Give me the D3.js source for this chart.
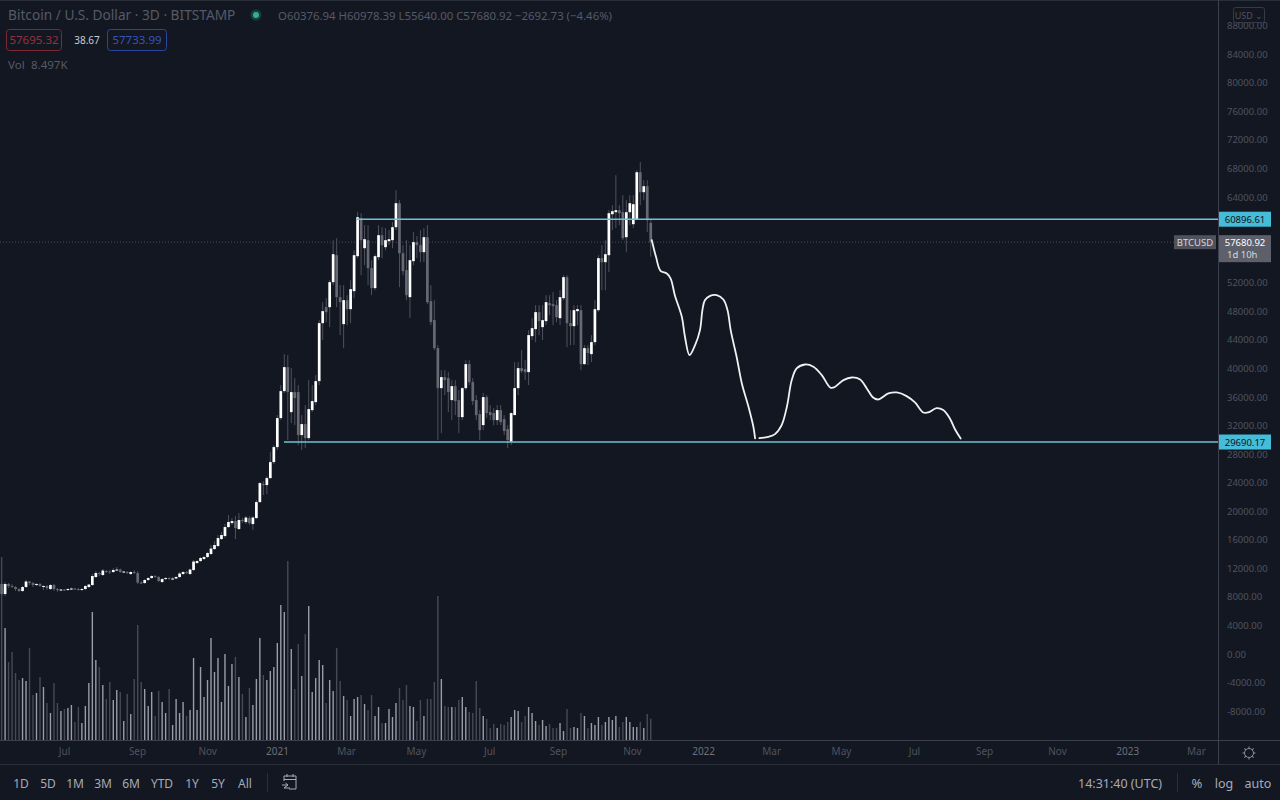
<!DOCTYPE html>
<html>
<head>
  <meta charset="utf-8">
  <title>Bitcoin / U.S. Dollar</title>
  <script src="https://d3js.org/d3.v7.min.js"></script>
  <style>
    html, body { margin: 0; padding: 0; background: #131722; overflow: hidden; }
    text { font-family: "Noto Sans", sans-serif; }
  </style>
</head>
<body>
  <div id="canvas"></div>

  <script>
    // 3D candles
    var opens = [9800,8400,9800,9520,9380,9100,8820,9380,10150,9940,9660,9800,9380,9520,9100,9660,9100,8960,9030,8960,
      9100,9170,9100,9030,9100,9380,9660,10780,11340,11060,11620,11550,11480,11760,11830,11480,11480,11200,11480,11340,
      10010,9940,10360,10640,10920,10780,10080,10500,10640,10500,10570,10780,11200,11480,11200,11760,12740,13020,13300,13580,
      14000,14700,15120,16100,16520,17780,18340,18620,17500,18760,18480,19040,18200,19040,21280,23800,23660,24640,26880,28980,
      33040,36820,40180,33880,36680,36680,30660,32200,30240,34160,35280,38220,46340,48580,48580,52080,55860,49980,46200,49560,
      48300,50820,55720,61040,56840,57960,54040,51240,55580,58660,56980,57820,57960,59780,63140,56140,53760,49980,55020,57680,
      57260,56280,58380,49420,46760,42840,37240,38780,38640,35560,37520,35560,33180,37240,40600,38080,35560,33600,32060,35980,
      33880,33740,32760,34160,32900,31500,29750,33460,37240,40040,39900,39480,44520,45500,47880,45780,46620,49140,49000,48860,
      47040,49840,52780,46340,45920,48020,48160,40600,42840,42000,43680,48160,55440,54880,55860,61600,61880,62160,61880,58380,
      61880,60200,60900,67480,64680,65520,60376.94];
    var highs = [10080,10080,9940,9800,9520,9240,9520,10360,10220,10080,9940,9940,9660,9660,9800,9800,9240,9100,9100,9240,
      9310,9240,9240,9240,9660,9800,11200,11620,11480,11900,11760,11760,12040,12180,11970,11620,11620,11620,11760,11620,
      10220,10500,10780,11060,11060,10920,10640,10780,10780,10780,10920,11480,11620,11620,11970,13160,13160,13580,13720,14280,
      15260,15820,16660,17080,18200,19460,19040,19320,19740,19040,19320,19320,19320,21560,24080,24220,24920,28280,29260,33460,
      37660,42000,41860,40040,38640,37660,33460,34860,38360,37660,39060,46760,49280,49840,52360,57960,58240,51660,51660,50260,
      52360,56560,61880,61740,60060,60060,55160,56000,60060,59780,59640,59360,60480,64960,63560,57260,57960,57260,59080,58520,
      59360,59640,60060,51660,49560,43260,39760,39760,39480,38360,38360,36960,37380,41160,41160,38640,36260,34160,36540,36260,
      34860,34440,34860,34860,33460,32060,33880,40880,40880,42560,41160,45360,47040,48860,48860,48860,50260,50260,50680,49560,
      50960,53060,53060,48160,48860,48860,48860,43260,43260,44660,49560,55860,57260,57960,62160,62860,67060,62860,64260,63560,
      64260,64260,67760,68880,66360,66360,60978.39];
    var lows = [8120,8120,9240,9240,8820,8680,8680,9240,9660,9380,9520,9380,8960,8960,8960,8820,8680,8820,8820,8820,
      8960,8960,8890,8820,8960,9240,9520,10640,10920,10920,11340,11200,11340,11620,11340,11340,11200,11060,11200,9800,
      9800,9800,10220,10500,10640,10080,9940,10360,10360,10360,10500,10640,11060,11200,11060,11620,12600,12880,13160,13440,
      13860,14560,14980,15960,16240,17640,18060,16100,17360,18340,18200,18060,17360,18900,21140,22260,22400,24500,26600,28560,
      32760,36540,29960,32340,32060,29260,28560,28840,29960,33880,34860,37660,43960,46480,45780,51660,48580,44660,42840,46060,
      46340,49840,55440,53060,54460,51660,50260,50960,55160,55440,56560,57260,56840,59360,51380,53060,49560,47040,54460,55440,
      54880,54880,49000,46060,42560,29960,30940,36260,33880,32760,33460,30940,32760,36960,37660,34860,32760,29960,31360,33040,
      32760,32060,32060,32060,30660,28840,29260,36260,36260,39340,38360,37660,43960,43680,44660,43960,46060,47460,46060,46480,
      46060,49560,42980,43260,43260,46060,39760,40460,40460,40880,43260,47880,50960,50960,53480,59360,59640,60060,57960,56280,
      60060,59640,60760,62860,63560,59080,55640];
    var closes = [8400,9800,9520,9380,9100,8820,9380,10150,9940,9660,9800,9520,9520,9240,9660,9100,8960,9030,8960,9100,
      9170,9100,9030,9100,9520,9730,10920,11340,11200,11690,11550,11480,11760,11830,11480,11550,11340,11480,11340,10010,
      9940,10360,10640,10920,10780,10220,10500,10640,10500,10570,10780,11270,11480,11340,11830,12950,13020,13440,13580,14140,
      14770,15260,16240,16660,17780,18480,18620,17640,18760,18620,19110,18340,19110,21280,23940,23660,24640,26880,28980,33040,
      36820,40180,36680,36680,35840,30660,32200,30240,34300,35420,38220,46340,48020,47880,52080,56000,49980,49280,49560,48300,
      51100,55860,61180,57960,58100,54040,51240,55720,58660,57260,57960,58100,59780,63140,56140,53620,50260,55160,57680,57260,
      56280,58380,49280,46480,42840,37240,38780,38360,36680,37520,35420,33180,37240,40600,38080,35420,33460,31360,35980,33740,
      33460,32760,34160,32480,31220,29960,33740,37240,40040,39620,39480,44660,45640,47880,46620,46760,49280,48860,48720,47180,
      49980,52780,46340,45920,48160,48300,40600,42840,42140,43680,48300,55440,54880,56000,61740,62020,62160,61740,58240,61880,
      63140,63000,67480,64680,65520,60760,57680.92];
    // volume in thousands, last bar from the legend
    var volumes = [73.2,44.8,31.2,35.2,26.8,24,24.8,23.6,36.8,18,
      18.8,25.2,21.2,14.8,10.8,22.8,14.8,11.6,12.4,12.8,
      14,7.2,13.2,6.8,13.6,22.8,51.2,32,29.2,22,
      16.4,23.2,16,20,19.2,7.6,18.4,10.4,24.4,46,
      23.2,20.4,13.6,19.2,9.6,19.6,15.2,10.8,20.4,6,
      16.4,10.8,15.2,9.6,12,32.8,12,29.2,17.2,24,
      40.8,27.2,32.8,15.2,34.4,21.6,30.4,33.2,25.2,18.4,
      9.2,20.8,14,24.4,40.8,26,24,27.6,29.2,38.8,
      54,51.2,71.6,36.4,20.4,38.4,25.6,42.4,53.6,19.2,
      24.8,32,30,14.8,24,19.6,36.8,
      23.6,17.6,16,9.6,16.4,17.2,18,14.4,12,18,
      9.6,13.2,6.8,6.8,12.4,9.2,14.8,20.8,16,22,
      13.6,13.2,7.6,16,9.6,16.4,16.4,23.2,57.6,24.4,
      13.6,13.2,13.2,13.2,16,17.2,13.2,11.2,10.8,23.6,
      12.8,9.6,8.4,4.8,6.4,4.8,6.4,6,7.2,9.2,
      12,11.6,7.2,9.6,13.2,10.8,7.6,6,8,5.6,
      6.4,4.8,4.8,6.8,3.6,12.4,4.8,5.2,4.8,10.8,
      9.6,4.8,6.8,6,9.2,6,7.2,9.2,8,9.6,
      5.2,7.2,9.2,7.2,5.2,5.2,7.2,4.8,10.4,8.497];

    // hand drawn projection, two strokes (bar number, price)
    var sketchBarsA = [186.3,187.5,188.8,190.6,191.7,192.9,194.9,195.8,197.1,198.7,200.1,200.8,201.5,203,204.9,206.8,208,208.9,210.6,212.1,214,215.4,215.9];
    var sketchPricesA = [57960,55630,53670,53290,52590,50260,47230,44430,41860,43260,45360,48160,49560,50170,50260,49650,48160,45360,41630,37890,34630,31830,30190];
    var sketchBarsB = [217.1,219.7,221.6,223.5,225,226.4,227.8,230.2,232.6,235,237.4,238.5,241.2,243.6,246,247.9,249.8,251.2,254.1,256.5,259.3,261.7,264.1,265.5,267.9,269.8,271.7,273.2,274.8];
    var sketchPricesB = [30240,30420,30800,32060,34630,38360,39990,40550,40230,39060,37330,37330,38360,38730,38450,37190,35880,35650,36490,36630,36120,35230,33830,33830,34440,34160,32990,31450,30190];

    // horizontal levels and where they begin
    var levels = [60896.61, 29690.17];
    var levelStartBars = [101.6, 80.9];
    var lastPrice = 57680.92;

    // 60000 and 56000 sit behind the price labels in the picture
    var priceTicks = [88000,84000,80000,76000,72000,68000,64000,52000,48000,44000,40000,36000,32000,28000,24000,20000,16000,12000,8000,4000,0,-4000,-8000];
    var timeTickBars = [17.9,38.8,58.9,78.9,98.7,118.7,139.7,159.4,180.6,201,220.5,240.5,261.4,281.5,302.4,322.5,342.2];
    var timeTickLabels = ["Jul","Sep","Nov","2021","Mar","May","Jul","Sep","Nov","2022","Mar","May","Jul","Sep","Nov","2023","Mar"];
    var rangeLabels = ["1D","5D","1M","3M","6M","YTD","1Y","5Y","All"];
    var rangeCentres = [21,48,75,103,131,162,192,218,245];

    // Canvas parameters
    var width = 1280, height = 800;
    var plotRight = 1218, plotBottom = 740, barBottom = 765;
    var bg = "#131722", rule = "#3c404c", dimText = "#50535e";

    var svg = d3.select("#canvas").append("svg")
      .attr("width", width)
      .attr("height", height)
      .style("display", "block");

    svg.append("rect").attr("width", width).attr("height", height).attr("fill", bg);

    // Scales: bars are evenly spaced, price is linear
    var x = d3.scaleLinear().domain([0, 348.5]).range([1.6, 1217.9]);
    var y = d3.scaleLinear().domain([0, 88000]).range([654, 25.7]);
    var yVol = d3.scaleLinear().domain([0, 100]).range([plotBottom, 490]);

    var plot = svg.append("g");

    // Last price dotted line
    plot.append("line")
      .attr("x1", 0).attr("x2", plotRight)
      .attr("y1", y(lastPrice)).attr("y2", y(lastPrice))
      .attr("stroke", "#4b4e59").attr("stroke-width", 1).attr("stroke-dasharray", "1 2");

    // Volume
    plot.append("g").selectAll("rect")
      .data(volumes)
      .enter().append("rect")
        .attr("x", function(d, i) { return x(i) - 0.7; })
        .attr("y", function(d) { return yVol(d); })
        .attr("width", 1.4)
        .attr("height", function(d) { return plotBottom - yVol(d); })
        .attr("fill", function(d, i) { return closes[i] >= opens[i] ? "#9a9ca6" : "#474a55"; });

    // Candles
    var candles = plot.append("g").selectAll("g")
      .data(opens)
      .enter().append("g");

    candles.append("line")
      .attr("x1", function(d, i) { return x(i); })
      .attr("x2", function(d, i) { return x(i); })
      .attr("y1", function(d, i) { return y(highs[i]); })
      .attr("y2", function(d, i) { return y(lows[i]); })
      .attr("stroke", "#4f525c").attr("stroke-width", 1);

    candles.append("rect")
      .attr("x", function(d, i) { return x(i) - 1.35; })
      .attr("width", 2.7)
      .attr("y", function(d, i) { return y(Math.max(opens[i], closes[i])); })
      .attr("height", function(d, i) { return Math.max(1, Math.abs(y(opens[i]) - y(closes[i]))); })
      .attr("fill", function(d, i) { return closes[i] >= opens[i] ? "#ffffff" : "#666973"; });

    // Level lines
    plot.append("g").selectAll("line")
      .data(levels)
      .enter().append("line")
        .attr("x1", function(d, i) { return x(levelStartBars[i]); })
        .attr("x2", plotRight)
        .attr("y1", function(d) { return y(d); })
        .attr("y2", function(d) { return y(d); })
        .attr("stroke", "#6fc3d2").attr("stroke-width", 1.5);

    // Hand drawn projection
    var sketch = d3.line()
      .x(function(d) { return x(d[0]); })
      .y(function(d) { return y(d[1]); })
      .curve(d3.curveCatmullRom.alpha(0.5));

    plot.append("g").selectAll("path")
      .data([d3.zip(sketchBarsA, sketchPricesA), d3.zip(sketchBarsB, sketchPricesB)])
      .enter().append("path")
        .attr("d", sketch)
        .attr("fill", "none")
        .attr("stroke", "#f0f1f3")
        .attr("stroke-width", 1.8)
        .attr("stroke-linecap", "round");

    // Axes
    var yAxis = svg.append("g")
      .attr("transform", "translate(" + plotRight + ",0)")
      .call(d3.axisRight(y).tickValues(priceTicks).tickSize(0).tickPadding(9)
        .tickFormat(function(d) { return d.toFixed(2); }));
    yAxis.select(".domain").remove();
    yAxis.selectAll("text").attr("fill", dimText).style("font-size", "9.5px").style("font-family", '"Noto Sans", sans-serif');

    var xAxis = svg.append("g")
      .attr("transform", "translate(0," + plotBottom + ")")
      .call(d3.axisBottom(x).tickValues(timeTickBars).tickSize(0).tickPadding(8)
        .tickFormat(function(d, i) { return timeTickLabels[i]; }));
    xAxis.select(".domain").remove();
    xAxis.selectAll("text")
      .attr("fill", function(d, i) { return /^\d/.test(timeTickLabels[i]) ? "#6c6f7a" : dimText; })
      .style("font-size", "10px").style("font-family", '"Noto Sans", sans-serif');

    // Frame rules
    svg.append("line").attr("x1", 0).attr("x2", width).attr("y1", 0.5).attr("y2", 0.5).attr("stroke", "#2a2e39");
    svg.append("line").attr("x1", 0).attr("x2", width).attr("y1", plotBottom + 0.5).attr("y2", plotBottom + 0.5).attr("stroke", rule);
    svg.append("line").attr("x1", 0).attr("x2", width).attr("y1", barBottom - 0.5).attr("y2", barBottom - 0.5).attr("stroke", "#2a2e39");
    svg.append("line").attr("x1", plotRight + 0.5).attr("x2", plotRight + 0.5).attr("y1", 0).attr("y2", barBottom).attr("stroke", rule);

    // Price labels on the axis
    svg.append("g").selectAll("g")
      .data(levels)
      .enter().append("g")
      .each(function(d) {
        var g = d3.select(this);
        g.append("rect").attr("x", 1219).attr("y", y(d) - 7.5).attr("width", 52).attr("height", 15).attr("fill", "#45bcd8");
        g.append("text").attr("x", 1245).attr("y", y(d) + 3.5).attr("text-anchor", "middle")
          .attr("fill", "#10131b").style("font-size", "9.5px").text(d.toFixed(2));
      });

    svg.append("rect").attr("x", 1219).attr("y", y(lastPrice) - 7).attr("width", 52).attr("height", 27).attr("fill", "#5d606b");
    svg.append("text").attr("x", 1245).attr("y", y(lastPrice) + 3.5).attr("text-anchor", "middle")
      .attr("fill", "#ffffff").style("font-size", "9.5px").text(lastPrice.toFixed(2));
    svg.append("text").attr("x", 1227).attr("y", y(lastPrice) + 15.5)
      .attr("fill", "#d6d7db").style("font-size", "9.5px").text("1d 10h");
    svg.append("rect").attr("x", 1174).attr("y", y(lastPrice) - 7).attr("width", 42).attr("height", 14).attr("fill", "#4f525d");
    svg.append("text").attr("x", 1195).attr("y", y(lastPrice) + 3.5).attr("text-anchor", "middle")
      .attr("fill", "#d6d7db").style("font-size", "9.5px").text("BTCUSD");

    // USD box over the top tick
    svg.append("rect").attr("x", 1233.5).attr("y", 7.5).attr("width", 31).attr("height", 15).attr("rx", 2)
      .attr("fill", bg).attr("stroke", "#363a45");
    svg.append("text").attr("x", 1249).attr("y", 18.5).attr("text-anchor", "middle")
      .attr("fill", "#50535e").style("font-size", "9px").text("USD \u2304");

    // Legend
    var legendColor = "#565a65";
    svg.append("text").attr("x", 8).attr("y", 20).attr("fill", legendColor).style("font-size", "13.7px")
      .text("Bitcoin / U.S. Dollar \u00b7 3D \u00b7 BITSTAMP");
    svg.append("circle").attr("cx", 256).attr("cy", 15).attr("r", 5.5).attr("fill", "#12423f");
    svg.append("circle").attr("cx", 256).attr("cy", 15).attr("r", 3).attr("fill", "#3fa796");
    svg.append("text").attr("x", 278).attr("y", 20).attr("fill", legendColor).style("font-size", "11.4px")
      .text("O60376.94 H60978.39 L55640.00 C57680.92 \u22122692.73 (\u22124.46%)");

    svg.append("rect").attr("x", 6.5).attr("y", 29.5).attr("width", 55).attr("height", 21).attr("rx", 3)
      .attr("fill", "none").attr("stroke", "#7d2a33");
    svg.append("text").attr("x", 34).attr("y", 44).attr("text-anchor", "middle").attr("fill", "#96323c")
      .style("font-size", "11.5px").text("57695.32");
    svg.append("text").attr("x", 87).attr("y", 44).attr("text-anchor", "middle").attr("fill", "#c9cbd1")
      .style("font-size", "10px").text("38.67");
    svg.append("rect").attr("x", 107.5).attr("y", 29.5).attr("width", 59).attr("height", 21).attr("rx", 3)
      .attr("fill", "none").attr("stroke", "#2a46a0");
    svg.append("text").attr("x", 137).attr("y", 44).attr("text-anchor", "middle").attr("fill", "#3555b8")
      .style("font-size", "11.5px").text("57733.99");
    svg.append("text").attr("x", 8).attr("y", 69).attr("fill", legendColor).style("font-size", "11.5px").text("Vol");
    svg.append("text").attr("x", 31).attr("y", 69).attr("fill", legendColor).style("font-size", "11.5px").text("8.497K");

    // Bottom toolbar
    svg.append("g").selectAll("text")
      .data(rangeLabels)
      .enter().append("text")
        .attr("x", function(d, i) { return rangeCentres[i]; })
        .attr("y", 788)
        .attr("text-anchor", "middle")
        .attr("fill", "#a8abb4")
        .style("font-size", "12px")
        .text(function(d) { return d; });

    svg.append("line").attr("x1", 267.5).attr("x2", 267.5).attr("y1", 773).attr("y2", 792).attr("stroke", "#2a2e39");
    svg.append("path")
      .attr("d", "M284 781V776H296V789H289M284 779.5H296M287 774V777M293 774V777M282 785H288M285.5 783L288 785L285.5 787M290 788H284M286 786.5L284 788")
      .attr("fill", "none").attr("stroke", "#a8abb4").attr("stroke-width", 1);

    svg.append("text").attr("x", 1078).attr("y", 788).attr("fill", "#a8abb4").style("font-size", "12.5px").text("14:31:40 (UTC)");
    svg.append("line").attr("x1", 1177.5).attr("x2", 1177.5).attr("y1", 773).attr("y2", 792).attr("stroke", "#2a2e39");
    svg.append("text").attr("x", 1197).attr("y", 788).attr("text-anchor", "middle").attr("fill", "#a8abb4").style("font-size", "13px").text("%");
    svg.append("text").attr("x", 1224).attr("y", 788).attr("text-anchor", "middle").attr("fill", "#a8abb4").style("font-size", "12.5px").text("log");
    svg.append("text").attr("x", 1258).attr("y", 788).attr("text-anchor", "middle").attr("fill", "#a8abb4").style("font-size", "12.5px").text("auto");

    // Settings gear
    var gear = svg.append("g").attr("transform", "translate(1249,753)");
    gear.append("circle").attr("r", 4.5).attr("fill", "none").attr("stroke", "#8c8f99");
    gear.selectAll("line").data(d3.range(8)).enter().append("line")
      .attr("y1", -4.5).attr("y2", -6.5)
      .attr("transform", function(d) { return "rotate(" + d * 45 + ")"; })
      .attr("stroke", "#8c8f99");
  </script>
</body>
</html>
